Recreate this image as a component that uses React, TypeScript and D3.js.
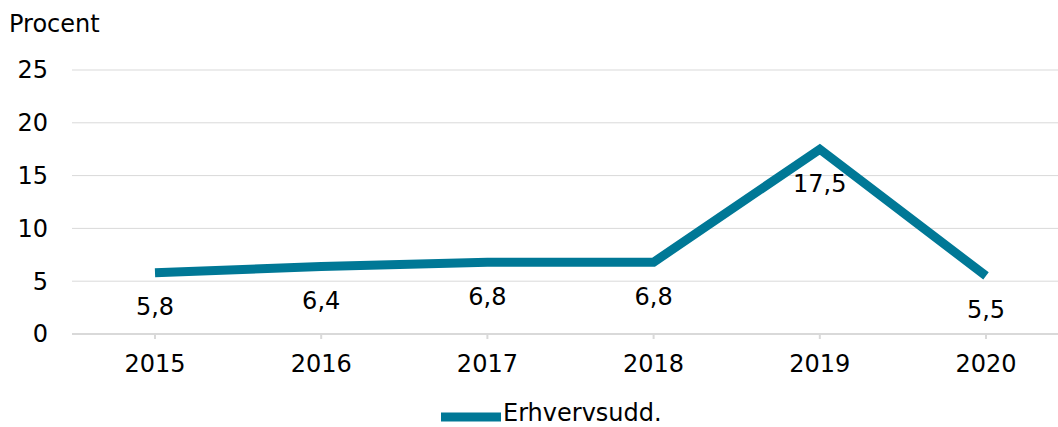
import React, { useRef, useLayoutEffect } from 'react';
import * as d3 from 'd3';

const years = ['2015', '2016', '2017', '2018', '2019', '2020'];
const values = [5.8, 6.4, 6.8, 6.8, 17.5, 5.5];
const valueLabels = ['5,8', '6,4', '6,8', '6,8', '17,5', '5,5'];
const yTicks = [0, 5, 10, 15, 20, 25];
const seriesName = 'Erhvervsudd.';
const yTitle = 'Procent';

const W = 1058;
const H = 427;
const FONT = '"DejaVu Sans", Verdana, sans-serif';
const FS = '24px';
const LINE = '#007896';

const App: React.FC = () => {
  const ref = useRef<SVGSVGElement>(null);

  useLayoutEffect(() => {
    const svg = d3.select(ref.current);
    svg.selectAll('*').remove();

    const x = d3.scalePoint<string>().domain(years).range([155, 986]);
    const y = d3.scaleLinear().domain([0, 25]).range([334, 70]);

    // gridlines
    svg
      .append('g')
      .selectAll('line')
      .data(yTicks.filter((t) => t > 0))
      .enter()
      .append('line')
      .attr('x1', 72)
      .attr('x2', W)
      .attr('y1', (d) => y(d))
      .attr('y2', (d) => y(d))
      .attr('stroke', '#d9d9d9')
      .attr('stroke-width', 1);

    // baseline
    svg
      .append('line')
      .attr('x1', 72)
      .attr('x2', W)
      .attr('y1', y(0))
      .attr('y2', y(0))
      .attr('stroke', '#d9d9d9')
      .attr('stroke-width', 2);

    // tick marks
    svg
      .append('g')
      .selectAll('line')
      .data(years)
      .enter()
      .append('line')
      .attr('x1', (d) => x(d)!)
      .attr('x2', (d) => x(d)!)
      .attr('y1', y(0))
      .attr('y2', y(0) + 5)
      .attr('stroke', '#d9d9d9')
      .attr('stroke-width', 2);

    // y tick labels
    svg
      .append('g')
      .selectAll('text')
      .data(yTicks)
      .enter()
      .append('text')
      .attr('x', 48)
      .attr('y', (d) => y(d))
      .attr('dy', '0.35em')
      .attr('text-anchor', 'end')
      .style('font-family', FONT)
      .style('font-size', FS)
      .attr('fill', '#000')
      .text((d) => d);

    // x tick labels
    svg
      .append('g')
      .selectAll('text')
      .data(years)
      .enter()
      .append('text')
      .attr('x', (d) => x(d)!)
      .attr('y', 364)
      .attr('dy', '0.35em')
      .attr('text-anchor', 'middle')
      .style('font-family', FONT)
      .style('font-size', FS)
      .attr('fill', '#000')
      .text((d) => d);

    // y title
    svg
      .append('text')
      .attr('x', 9)
      .attr('y', 32)
      .style('font-family', FONT)
      .style('font-size', FS)
      .attr('fill', '#000')
      .text(yTitle);

    const line = d3
      .line<number>()
      .x((_, i) => x(years[i])!)
      .y((d) => y(d));

    svg
      .append('path')
      .datum(values)
      .attr('d', line)
      .attr('fill', 'none')
      .attr('stroke', LINE)
      .attr('stroke-width', 9)
      .attr('stroke-linejoin', 'miter');

    // data labels
    svg
      .append('g')
      .selectAll('text')
      .data(values)
      .enter()
      .append('text')
      .attr('x', (_, i) => x(years[i])!)
      .attr('y', (d) => y(d) + 34)
      .attr('dy', '0.35em')
      .attr('text-anchor', 'middle')
      .style('font-family', FONT)
      .style('font-size', FS)
      .attr('fill', '#000')
      .text((_, i) => valueLabels[i]);

    // legend
    svg
      .append('line')
      .attr('x1', 441)
      .attr('x2', 501)
      .attr('y1', 417)
      .attr('y2', 417)
      .attr('stroke', LINE)
      .attr('stroke-width', 9);

    svg
      .append('text')
      .attr('x', 503)
      .attr('y', 421)
      .style('font-family', FONT)
      .style('font-size', FS)
      .attr('fill', '#000')
      .text(seriesName);
  }, []);

  return (
    <svg
      ref={ref}
      width={W}
      height={H}
      style={{ position: 'absolute', left: 0, top: 0, display: 'block' }}
    />
  );
};

export default App;
